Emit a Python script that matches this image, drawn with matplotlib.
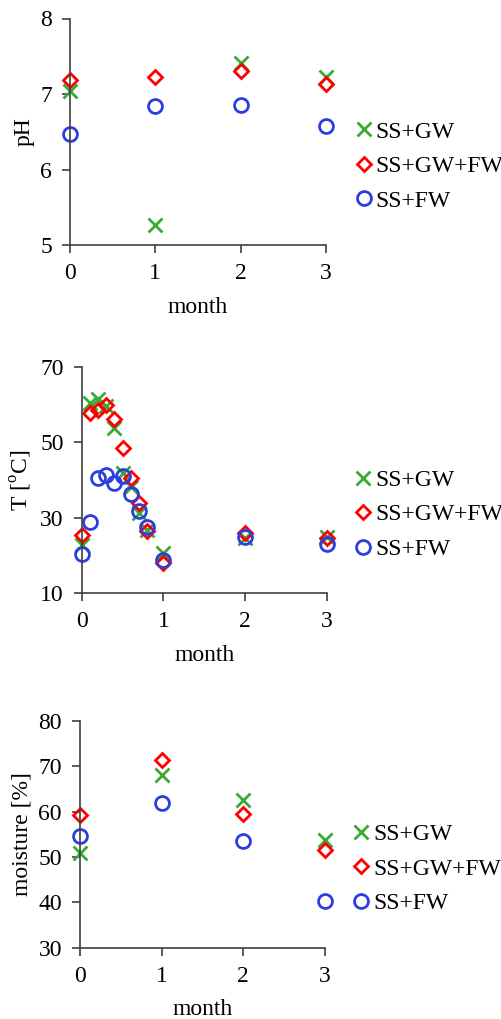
import numpy as np
import matplotlib
matplotlib.use("Agg")
import matplotlib.pyplot as plt

plt.rcParams['font.family'] = ['Liberation Serif', 'DejaVu Serif']
plt.rcParams['mathtext.fontset'] = 'custom'
plt.rcParams['mathtext.rm'] = 'Liberation Serif'
plt.rcParams['font.size'] = 17

series = ['SS+GW', 'SS+GW+FW', 'SS+FW']

# pH
mes_ph = [0, 1, 2, 3]
ph_gw = [7.04, 5.26, 7.41, 7.23]
ph_gwfw = [7.19, 7.22, 7.31, 7.13]
ph_fw = [6.47, 6.84, 6.85, 6.58]

# temperatura
mes_t = [0, 0.1, 0.2, 0.3, 0.4, 0.5, 0.6, 0.7, 0.8, 1, 2, 3]
t_gw = [22.8, 60.5, 61.4, 59.6, 53.7, 41.8, 38.2, 31.2, 26.8, 20.6, 24.6, 24.9]
t_gwfw = [25.5, 57.8, 58.5, 59.9, 56.1, 48.6, 40.6, 33.8, 26.6, 18.0, 26.0, 24.6]
t_fw = [20.4, 29.0, 40.5, 41.3, 39.1, 41.1, 36.3, 31.8, 27.5, 18.7, 25.0, 23.0]

# humedad
mes_m = [0, 1, 2, 3]
m_gw = [50.8, 68.0, 62.5, 53.7]
m_gwfw = [59.2, 71.3, 59.4, 51.5]
m_fw = [54.6, 61.8, 53.5, 40.3]

estilos = [
    dict(marker='x', color='#3aaa35', markersize=10, markeredgewidth=2),
    dict(marker='D', markerfacecolor='none', markeredgecolor='#ff0000', markersize=7.5, markeredgewidth=2),
    dict(marker='o', markerfacecolor='none', markeredgecolor='#2b3fe0', markersize=10, markeredgewidth=2),
]

W, H = 502, 1019
fig = plt.figure(figsize=(W / 100, H / 100), dpi=100)

def caja(izq, der, arriba, abajo):
    return [izq / W, 1 - abajo / H, (der - izq) / W, (abajo - arriba) / H]

paneles = [
    (caja(70, 326, 18.5, 245), mes_ph, [ph_gw, ph_gwfw, ph_fw], (5, 8), [5, 6, 7, 8], 'pH'),
    (caja(81.7, 326.7, 366.7, 593.3), mes_t, [t_gw, t_gwfw, t_fw], (10, 70), [10, 30, 50, 70],
     r'T [$^{\rm o}$C]'),
    (caja(80, 325, 720.7, 947.7), mes_m, [m_gw, m_gwfw, m_fw], (30, 80), [30, 40, 50, 60, 70, 80],
     'moisture [%]'),
]

for rect, xs, ys_list, ylim, yticks, ylabel in paneles:
    ax = fig.add_axes(rect)
    for ys, nombre, est in zip(ys_list, series, estilos):
        ax.plot(xs, ys, linestyle='none', label=nombre, clip_on=False, **est)
    ax.set_xlim(0, 3)
    ax.set_ylim(*ylim)
    ax.set_xticks([0, 1, 2, 3])
    ax.set_yticks(yticks)
    ax.spines['top'].set_visible(False)
    ax.spines['right'].set_visible(False)
    for s in ('left', 'bottom'):
        ax.spines[s].set_color('#404040')
        ax.spines[s].set_linewidth(1.2)
    ax.tick_params(direction='out', length=6, width=1.2, color='#404040', labelsize=17, pad=7)
    ax.set_xlabel('month', fontsize=17, labelpad=9)
    ax.set_ylabel(ylabel, fontsize=17, labelpad=4)
    ax.legend(loc='center left', bbox_to_anchor=(1.11, 0.347), frameon=False, handlelength=0.8,
              handletextpad=0.1, labelspacing=0.55, fontsize=17, borderaxespad=0, borderpad=0)

fig.savefig('out.png', dpi=100)
